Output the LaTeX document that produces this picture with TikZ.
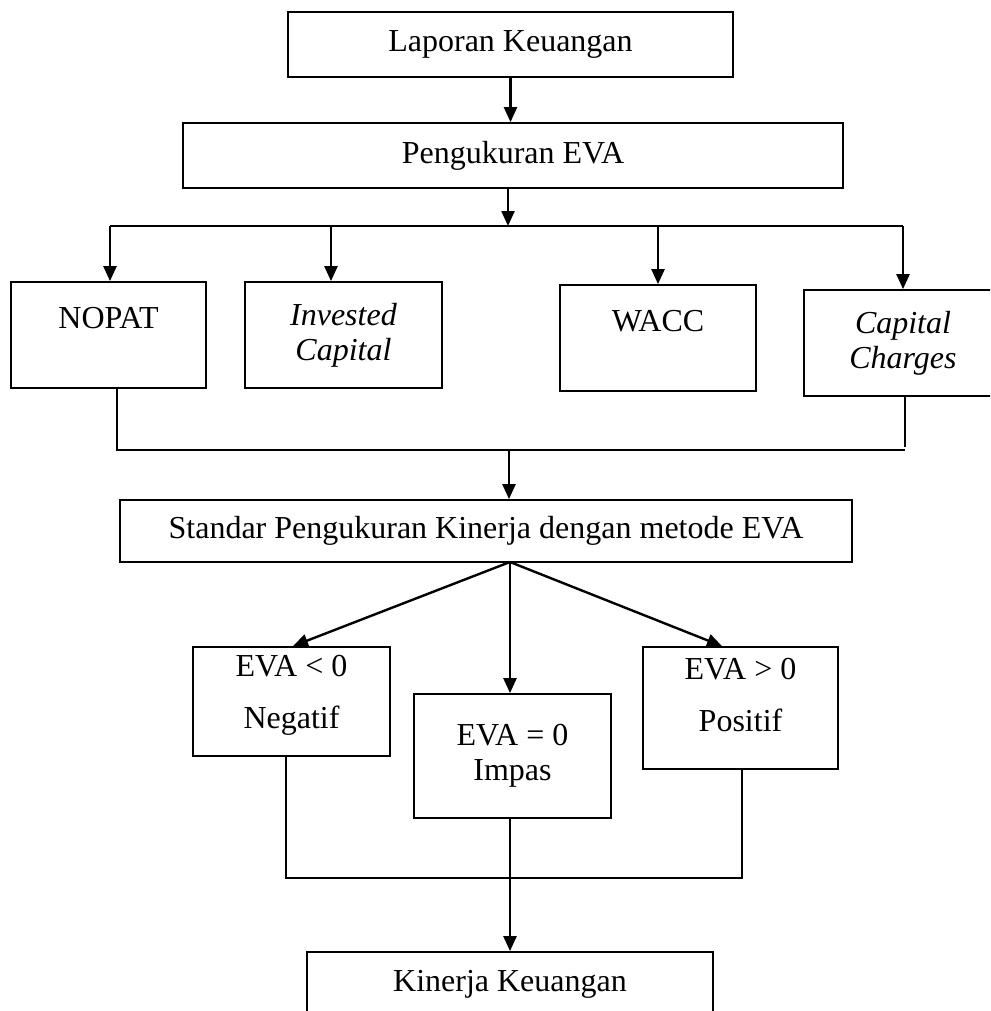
\documentclass[tikz,border=0pt]{standalone}
\usepackage{fontspec}
\setmainfont{Liberation Serif}
\usetikzlibrary{arrows.meta}

\begin{document}
\begin{tikzpicture}[x=1pt,y=-1pt,
  kotak/.style={draw,line width=1.8pt,align=center,inner sep=0pt,font=\fontsize{32}{35}\selectfont},
  panah/.style={line width=2.4pt,-{Triangle[length=15pt,width=13pt]}},
  garis/.style={line width=1.5pt}]
\clip (0,0) rectangle (990,1011);
\node[kotak,minimum width=445pt,minimum height=65pt] (lap) at (510.5,44.5) {Laporan Keuangan};
\node[kotak,minimum width=660pt,minimum height=65pt] (ukur) at (513,155.5) {Pengukuran EVA};
\node[kotak,minimum width=195pt,minimum height=106pt] (nopat) at (108.5,335) {NOPAT\\~};
\node[kotak,minimum width=197pt,minimum height=106pt] (ic) at (343.5,335) {\textit{Invested}\\\textit{Capital}};
\node[kotak,minimum width=196pt,minimum height=106pt] (wacc) at (658,338) {WACC\\~};
\node[kotak,minimum width=198pt,minimum height=106pt] (cc) at (903,343) {\textit{Capital}\\\textit{Charges}};
\node[kotak,minimum width=732pt,minimum height=62pt] (std) at (486,531) {Standar Pengukuran Kinerja dengan metode EVA};
\node[kotak,minimum width=197pt,minimum height=109pt,text depth=20pt] (neg) at (291.5,701.5) {EVA < 0\\[17pt]Negatif};
\node[kotak,minimum width=197pt,minimum height=124pt] (nol) at (512.5,756) {EVA = 0\\Impas};
\node[kotak,minimum width=195pt,minimum height=122pt,text depth=26pt] (pos) at (740.5,708) {EVA > 0\\[17pt]Positif};
\node[kotak,minimum width=406pt,minimum height=65pt] (kin) at (510,984.5) {Kinerja Keuangan};

\coordinate (atas) at (508,226);
\coordinate (tengah) at (509,450);
\coordinate (cabang) at (510,562);
\coordinate (bawah) at (510,878);

\draw[panah] (lap.south) -- (lap.south |- ukur.north);
\draw[panah] (atas |- ukur.south) -- (atas);
\draw[garis] ([xshift=1.5pt]nopat.north |- atas) -- (cc.north |- atas);
\draw[panah] ([xshift=1.5pt]nopat.north |- atas) -- ([xshift=1.5pt]nopat.north);
\draw[panah] ([xshift=-12.5pt]ic.north |- atas) -- ([xshift=-12.5pt]ic.north);
\draw[panah] (wacc.north |- atas) -- (wacc.north);
\draw[panah] (cc.north |- atas) -- (cc.north);

\draw[garis] ([xshift=8.5pt]nopat.south) -- ([xshift=8.5pt]nopat.south |- tengah) -- ([xshift=2pt]cc.south |- tengah);
\draw[garis] ([xshift=2pt]cc.south) -- ([xshift=2pt,yshift=3pt]cc.south |- tengah);
\draw[panah] (tengah) -- (tengah |- std.north);

\draw[panah] (cabang) -- ([xshift=1.5pt]neg.north);
\draw[panah] (cabang) -- (cabang |- nol.north);
\draw[panah] (cabang) -- ([xshift=-18.5pt]pos.north);

\draw[garis] ([xshift=-5.5pt]neg.south) -- ([xshift=-5.5pt]neg.south |- bawah) -- ([xshift=1.5pt]pos.south |- bawah) -- ([xshift=1.5pt]pos.south);
\draw[panah] (bawah |- nol.south) -- (bawah |- kin.north);
\end{tikzpicture}
\end{document}
